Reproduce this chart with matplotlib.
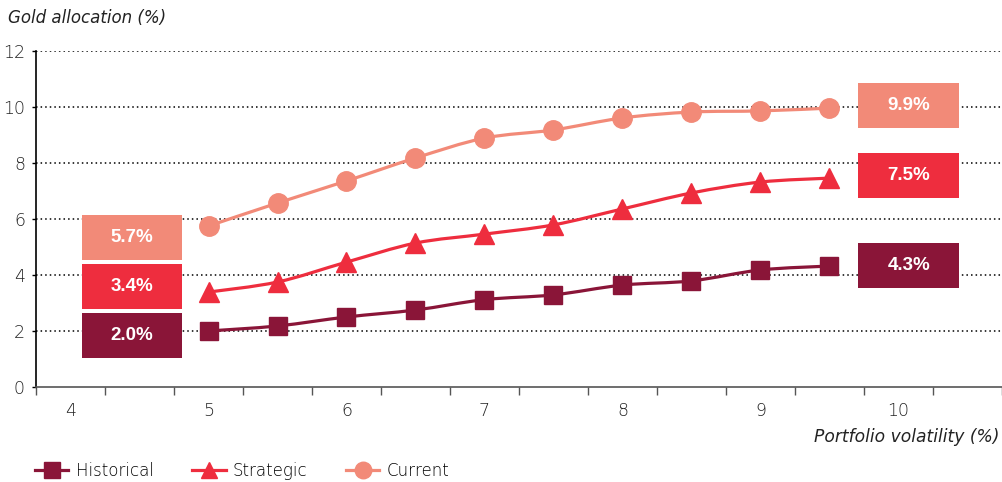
import matplotlib
matplotlib.use("Agg")
import matplotlib.pyplot as plt
from matplotlib.path import Path
from matplotlib.patches import PathPatch, Rectangle
from matplotlib.lines import Line2D
import numpy as np

plt.rcParams['font.family'] = ['DejaVu Sans']
plt.rcParams['font.weight'] = 'light'

volatility = [5, 5.5, 6, 6.5, 7, 7.5, 8, 8.5, 9, 9.5]
historical = [2.0, 2.18, 2.5, 2.75, 3.12, 3.29, 3.64, 3.79, 4.18, 4.32]
strategic = [3.39, 3.75, 4.46, 5.14, 5.46, 5.79, 6.36, 6.93, 7.32, 7.46]
current = [5.75, 6.57, 7.36, 8.18, 8.89, 9.18, 9.61, 9.82, 9.86, 9.96]
series_names = ["Historical", "Strategic", "Current"]
colors = ["#8A1538", "#EE2D3E", "#F28A78"]
markers = ["s", "^", "o"]
msizes = [13, 14, 14]
start_labels = ["2.0%", "3.4%", "5.7%"]
end_labels = ["4.3%", "7.5%", "9.9%"]
# box vertical ranges (bottom, top) in data units
start_boxes = [(1.04, 2.64), (2.79, 4.39), (4.54, 6.14)]
end_boxes = [(3.54, 5.14), (6.75, 8.36), (9.25, 10.86)]
xticks_major = [4, 5, 6, 7, 8, 9, 10]
yticks = [0, 2, 4, 6, 8, 10, 12]

TXT = "#222222"
FS = 12.5

fig = plt.figure(figsize=(10.03, 4.82), dpi=100)
ax = fig.add_axes([36/1003, 1-387/482, 966/1003, 336/482])
ax.set_xlim(3.75, 10.75)
ax.set_ylim(0, 12)

for y in yticks[1:]:
    ax.axhline(y, color="black", lw=1.1, ls=(0, (1, 2)), zorder=1)


def smooth_path(xs, ys, t=0.5):
    pts = np.column_stack([xs, ys])
    verts = [tuple(pts[0])]
    codes = [Path.MOVETO]
    n = len(pts)
    for i in range(n - 1):
        p0 = pts[i - 1] if i > 0 else pts[i]
        p1 = pts[i]
        p2 = pts[i + 1]
        p3 = pts[i + 2] if i + 2 < n else pts[i + 1]
        c1 = p1 + (p2 - p0) * t / 3
        c2 = p2 - (p3 - p1) * t / 3
        verts += [tuple(c1), tuple(c2), tuple(p2)]
        codes += [Path.CURVE4] * 3
    return Path(verts, codes)


data = [historical, strategic, current]
for vals, c, m, ms in zip(data, colors, markers, msizes):
    ax.add_patch(PathPatch(smooth_path(volatility, vals), fc="none", ec=c, lw=2.3, zorder=3))
    ax.plot(volatility, vals, ls="none", marker=m, ms=ms, color=c, mec=c, zorder=4)

for (b, t), lab, c in zip(start_boxes, start_labels, colors):
    ax.add_patch(Rectangle((4.08, b), 0.73, t - b, fc=c, ec="none", zorder=5))
    ax.text(4.08 + 0.365, (b + t) / 2, lab, color="white", fontsize=13.5, fontweight="bold",
            family=["Liberation Sans"], ha="center", va="center", zorder=6)
for (b, t), lab, c in zip(end_boxes, end_labels, colors):
    ax.add_patch(Rectangle((9.71, b), 0.73, t - b, fc=c, ec="none", zorder=5))
    ax.text(9.71 + 0.365, (b + t) / 2, lab, color="white", fontsize=13.5, fontweight="bold",
            family=["Liberation Sans"], ha="center", va="center", zorder=6)

for s in ["top", "right"]:
    ax.spines[s].set_visible(False)
ax.spines["left"].set_color("black")
ax.spines["left"].set_linewidth(1.2)
ax.spines["bottom"].set_color("#555555")
ax.spines["bottom"].set_linewidth(1.2)

ax.set_yticks(yticks)
ax.set_yticklabels([str(v) for v in yticks], fontsize=FS, color=TXT)
ax.tick_params(axis="y", length=3, width=1, pad=5)

ax.set_xticks(np.arange(3.75, 10.76, 0.5))
ax.set_xticklabels([])
ax.tick_params(axis="x", which="major", length=6, width=1, color="#555555")
ax.set_xticks(xticks_major, minor=True)
ax.set_xticklabels([str(v) for v in xticks_major], minor=True, fontsize=FS, color=TXT)
ax.tick_params(axis="x", which="minor", length=0, pad=11)

fig.text(8/1003, 1-18/482, "Gold allocation (%)", fontsize=12, style="italic", va="center", ha="left", color=TXT)
fig.text(999/1003, 1-437/482, "Portfolio volatility (%)", fontsize=12.3, style="italic", va="center", ha="right", color=TXT)

handles = [Line2D([], [], color=c, marker=m, ms=ms * 0.85, lw=2.3) for c, m, ms in zip(colors, markers, msizes)]
fig.legend(handles, series_names, loc="center left", bbox_to_anchor=(35/1003, 1-471/482), ncol=3,
           frameon=False, fontsize=12, handlelength=2.0, columnspacing=2.3, handletextpad=0.45,
           borderaxespad=0, borderpad=0)

fig.savefig("out.png", dpi=100)
